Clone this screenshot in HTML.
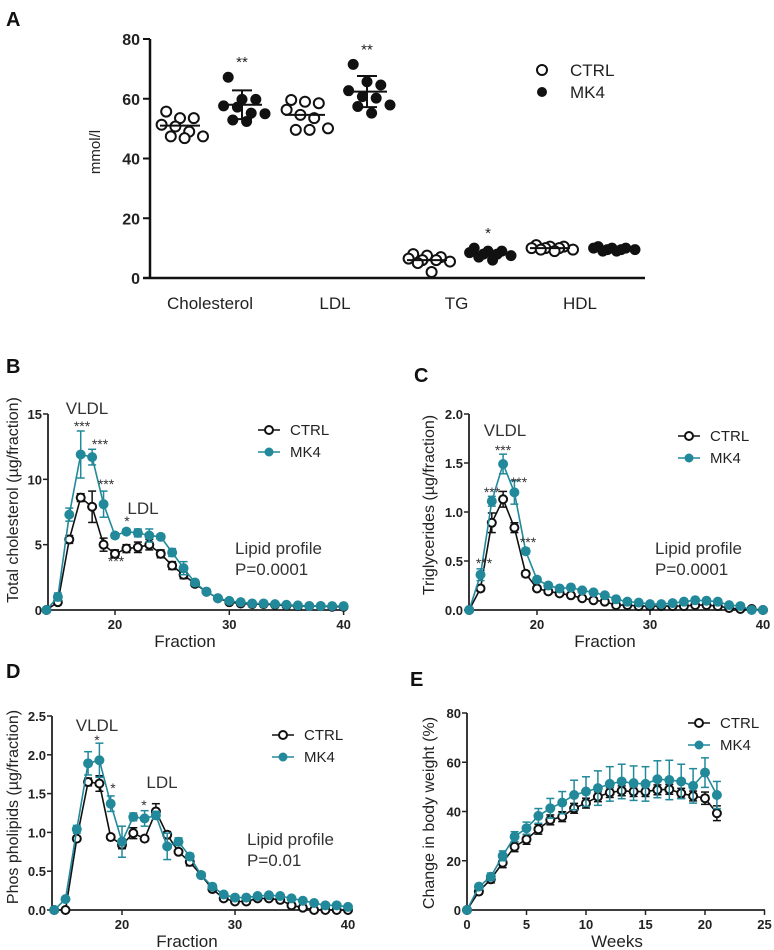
<!DOCTYPE html>
<html><head><meta charset="utf-8"><style>
body{margin:0;background:#fff}
svg{display:block}
text{font-family:"Liberation Sans",Arial,sans-serif}
</style></head><body>
<svg id="fig" width="774" height="950" viewBox="0 0 774 950"></svg>
<script>
// ---------- Panel A data ----------
const aGroups = ["Cholesterol","LDL","TG","HDL"];
const aCtrl = [[55.7,53.5,53.5,51.3,50.7,49,47.4,47.4,46.8],[59.6,59,58.5,56.3,54.6,53.5,50.1,49.6,49.6],[8,7.5,7,6.5,6,6,5.5,5,2],[11,10.5,10.5,10,10,10,9.5,9.5,9]];
const aMk4 = [[67.2,59.8,59.8,57.6,57.2,55.2,55,52.9,52.4],[71.5,65.7,64.6,62.7,60.7,60.2,57.9,57.4,55.2],[10,9,9,8.5,8,8,7.5,7,6],[10.5,10,10,10,9.5,9.5,9.5,9,9]];
const aCtrlMean = [51,54.6,6,10];
const aMk4Mean = [58,62.4,8,9.7];
const aMk4Sd = [4.8,5.2,1.2,0.5];
const aCtrlSd = [2.8,3.6,1.8,0.6];
const aYTicks = [0,20,40,60,80];
const aStars = ["**","**","*",""];

// ---------- Panel B data ----------
const fractions = [14,15,16,17,18,19,20,21,22,23,24,25,26,27,28,29,30,31,32,33,34,35,36,37,38,39,40];
const bCtrl = [0,0.6,5.4,8.6,7.9,5.0,4.3,4.7,4.8,5.0,4.3,3.4,2.7,2.0,1.4,0.9,0.6,0.5,0.45,0.45,0.4,0.35,0.3,0.3,0.3,0.25,0.25];
const bCtrlErr = [0,0.2,0.3,0.3,1.2,0.5,0.3,0.3,0.4,0.4,0.3,0.3,0.3,0.2,0.1,0.1,0.1,0.1,0.1,0.1,0.1,0.1,0.1,0.1,0.1,0.1,0.1];
const bMk4 = [0,1.0,7.3,11.9,11.7,8.1,5.7,6.0,5.9,5.7,5.6,4.4,3.2,2.1,1.4,0.9,0.7,0.6,0.5,0.5,0.45,0.4,0.35,0.3,0.3,0.3,0.3];
const bMk4Err = [0,0.3,0.5,1.8,0.6,1.0,0.2,0.2,0.3,0.5,0.2,0.3,0.5,0.2,0.1,0.1,0.1,0.1,0.1,0.1,0.1,0.1,0.1,0.1,0.1,0.1,0.1];
const bYTicks = [0,5,10,15];

// ---------- Panel C data ----------
const cCtrl = [0,0.22,0.89,1.13,0.84,0.37,0.22,0.19,0.17,0.15,0.12,0.1,0.085,0.05,0.05,0.04,0.04,0.04,0.04,0.04,0.05,0.05,0.04,0.02,0.01,0.01,0];
const cCtrlErr = [0,0.03,0.1,0.08,0.05,0.03,0.02,0.02,0.02,0.02,0.02,0.02,0.02,0.02,0.02,0.02,0.02,0.02,0.02,0.02,0.02,0.02,0.02,0.02,0.02,0.02,0];
const cMk4 = [0,0.36,1.11,1.49,1.2,0.6,0.31,0.25,0.22,0.23,0.2,0.18,0.15,0.11,0.085,0.075,0.06,0.06,0.07,0.085,0.1,0.095,0.085,0.05,0.04,0,0];
const cMk4Err = [0,0.06,0.05,0.1,0.12,0.03,0.02,0.02,0.02,0.02,0.02,0.02,0.02,0.02,0.02,0.02,0.02,0.02,0.02,0.02,0.02,0.02,0.02,0.02,0.02,0,0];
const cYTicks = [0,0.5,1.0,1.5,2.0];
const cYLabels = ["0.0","0.5","1.0","1.5","2.0"];

// ---------- Panel D data ----------
const dCtrl = [0,0,0.92,1.65,1.63,0.94,0.84,0.99,0.92,1.27,0.97,0.75,0.62,0.45,0.27,0.15,0.11,0.11,0.15,0.15,0.13,0.06,0.03,0,0,0,0];
const dCtrlErr = [0,0,0.03,0.05,0.1,0.03,0.05,0.07,0.03,0.1,0.04,0.03,0.05,0.03,0.02,0.02,0.02,0.02,0.02,0.02,0.02,0.02,0.02,0.02,0.02,0.02,0.02];
const dMk4 = [0,0.14,1.04,1.89,1.93,1.37,0.88,1.2,1.18,1.22,0.82,0.88,0.69,0.45,0.3,0.2,0.16,0.16,0.18,0.19,0.18,0.15,0.12,0.09,0.06,0.06,0.04];
const dMk4Err = [0,0.02,0.05,0.15,0.22,0.1,0.2,0.05,0.1,0.05,0.17,0.05,0.04,0.03,0.02,0.02,0.02,0.02,0.02,0.02,0.02,0.02,0.02,0.02,0.02,0.02,0.02];
const dYTicks = [0,0.5,1.0,1.5,2.0,2.5];
const dYLabels = ["0.0","0.5","1.0","1.5","2.0","2.5"];

// ---------- Panel E data ----------
const weeks = [0,1,2,3,4,5,6,7,8,9,10,11,12,13,14,15,16,17,18,19,20,21];
const eCtrl = [0,7.5,12.5,19.2,25.7,28.7,32.8,36.6,37.9,41.3,43.4,46,47.7,48.4,48.1,48.1,48.8,49,47.4,46.3,45.4,39.3];
const eCtrlErr = [0,1,1.5,2,2,2,2,2,2,2,2,2,2,2,2,2,2,2,2,2,2.5,3];
const eMk4 = [0,9.5,13.5,22,29.8,33.2,38.2,41.3,43.6,46.7,48.1,49.5,51.2,52.2,51.5,51.2,53.1,52.8,52.2,50.4,55.8,46.7];
const eMk4Err = [0,1,1.5,2,2,2.5,3,4,4.5,6,6,7,7,7,7,7,7.5,8,7,7,6,5.5];
const eXTicks = [0,5,10,15,20,25];
const eYTicks = [0,20,40,60,80];

const TEAL = "#22899b";
const NS = "http://www.w3.org/2000/svg";
const svg = document.getElementById("fig");
function mk(tag, attrs, parent, txt){
  const e = document.createElementNS(NS, tag);
  for (const k in attrs) e.setAttribute(k, attrs[k]);
  if (txt !== undefined) e.textContent = txt;
  (parent || svg).appendChild(e);
  return e;
}
function grp(name, parent){
  const g = mk("g", {}, parent);
  
  
  return g;
}
function label(parent, name, x, y, txt, size, opts){
  opts = opts || {};
  const t = mk("text", {x:x, y:y, "font-size":size, "text-anchor":opts.anchor||"start", "font-weight":opts.bold?"bold":"normal", fill:opts.fill||"#222"}, parent, txt);
  if (opts.rot) t.setAttribute("transform", "rotate(-90 " + x + " " + y + ")");
  
  
  return t;
}

// ================= Panel A =================
(function(){
  const g = grp("panel-a");
  const x0 = 150, y0 = 278, yTop = 39;
  const yS = v => y0 - (v / 80) * (y0 - yTop);
  const centers = [180, 242, 305, 367, 427, 488, 550, 612];
  const jit = [-12,0,12,-16,-4,8,20,-8,4];
  const jitY = [0,0,0,0,0,0,0,0,0];
  label(g, "panel-label-a", 6, 26, "A", 20, {bold:true, fill:"#111"});
  const ax = grp("y-axis", g);
  mk("line", {x1:x0, y1:yTop, x2:x0, y2:y0, stroke:"#111", "stroke-width":2.5}, ax);
  aYTicks.forEach(v => {
    mk("line", {x1:x0-7, y1:yS(v), x2:x0, y2:yS(v), stroke:"#111", "stroke-width":2}, ax);
    label(ax, "y-tick-label", x0-10, yS(v)+6, String(v), 16, {anchor:"end", bold:true});
  });
  label(g, "y-axis-title", 100, 152, "mmol/l", 15, {anchor:"middle", rot:true});
  const xa = grp("x-axis", g);
  mk("line", {x1:143, y1:y0, x2:645, y2:y0, stroke:"#111", "stroke-width":2.5}, xa);
  aGroups.forEach((n, i) => {
    label(xa, "x-category-label", (centers[2*i]+centers[2*i+1])/2 - 1, 309, n, 17, {anchor:"middle"});
  });
  aGroups.forEach((n, i) => {
    const cc = centers[2*i], cm = centers[2*i+1];
    const gc = grp("ctrl-points-" + n.toLowerCase(), g);
    aCtrl[i].forEach((v, j) => {
      mk("circle", {cx:cc + jit[j]*1.15, cy:yS(v), r:5, fill:"#fff", stroke:"#111", "stroke-width":2}, gc);
    });
    mk("line", {x1:cc-20, y1:yS(aCtrlMean[i]), x2:cc+20, y2:yS(aCtrlMean[i]), stroke:"#111", "stroke-width":2}, gc);
    const gm = grp("mk4-points-" + n.toLowerCase(), g);
    aMk4[i].forEach((v, j) => {
      mk("circle", {cx:cm + jit[j]*1.15, cy:yS(v), r:5, fill:"#111", stroke:"#111", "stroke-width":1}, gm);
    });
    mk("line", {x1:cm-20, y1:yS(aMk4Mean[i]), x2:cm+20, y2:yS(aMk4Mean[i]), stroke:"#111", "stroke-width":2}, gm);
    if (i < 2) {
      const t = yS(aMk4Mean[i]+aMk4Sd[i]), b = yS(aMk4Mean[i]-aMk4Sd[i]);
      mk("line", {x1:cm, y1:t, x2:cm, y2:b, stroke:"#111", "stroke-width":2}, gm);
      mk("line", {x1:cm-10, y1:t, x2:cm+10, y2:t, stroke:"#111", "stroke-width":2}, gm);
      mk("line", {x1:cm-10, y1:b, x2:cm+10, y2:b, stroke:"#111", "stroke-width":2}, gm);
    }
    if (aStars[i]) label(g, "significance-marker", cm, yS(Math.max(...aMk4[i])) - 10, aStars[i], 15, {anchor:"middle"});
  });
  const lg = grp("legend", g);
  mk("circle", {cx:542, cy:70, r:5, fill:"#fff", stroke:"#111", "stroke-width":2}, lg);
  mk("circle", {cx:542, cy:92, r:5, fill:"#111"}, lg);
  label(lg, "legend-ctrl", 570, 76, "CTRL", 17);
  label(lg, "legend-mk4", 570, 98, "MK4", 17);
})();

// ============ generic line panel ============
function linePanel(cfg){
  const g = grp(cfg.name);
  const xS = v => cfg.xAt0 + (v - cfg.x0) * cfg.xPx;
  const yS = v => cfg.y0 - (v - 0) * cfg.yPx;
  label(g, "panel-label", cfg.letterX, cfg.letterY, cfg.letter, 20, {bold:true, fill:"#111"});
  const ya = grp("y-axis", g);
  mk("line", {x1:cfg.axisX, y1:yS(cfg.yTicks[cfg.yTicks.length-1]), x2:cfg.axisX, y2:cfg.y0, stroke:"#222", "stroke-width":1.8}, ya);
  cfg.yTicks.forEach((v, i) => {
    mk("line", {x1:cfg.axisX-5, y1:yS(v), x2:cfg.axisX, y2:yS(v), stroke:"#222", "stroke-width":1.5}, ya);
    label(ya, "y-tick-label", cfg.axisX-6, yS(v)+5, cfg.yLabels ? cfg.yLabels[i] : String(v), 13, {anchor:"end", bold:true});
  });
  label(g, "y-axis-title", cfg.yTitleX, cfg.yTitleY, cfg.yTitle, 16, {anchor:"middle", rot:true});
  const xa = grp("x-axis", g);
  mk("line", {x1:cfg.axisX, y1:cfg.y0, x2:cfg.xEnd, y2:cfg.y0, stroke:"#222", "stroke-width":1.8}, xa);
  cfg.xTicks.forEach(v => {
    mk("line", {x1:xS(v), y1:cfg.y0, x2:xS(v), y2:cfg.y0+5, stroke:"#222", "stroke-width":1.5}, xa);
    label(xa, "x-tick-label", xS(v), cfg.y0+19, String(v), 13, {anchor:"middle", bold:true});
  });
  label(g, "x-axis-title", cfg.xTitleX, cfg.y0+37, cfg.xTitle, 17, {anchor:"middle"});
  function series(name, xs, ys, es, color, filled){
    const sg = grp(name, g);
    let d = "";
    xs.forEach((x, i) => { d += (i ? "L" : "M") + xS(x).toFixed(1) + " " + yS(ys[i]).toFixed(1); });
    const p = mk("path", {d:d, fill:"none", stroke:color, "stroke-width":1.6}, sg);
    
    
    xs.forEach((x, i) => {
      if (es[i] > 0) {
        const cx = xS(x), t = yS(ys[i]+es[i]), b = yS(ys[i]-es[i]);
        mk("line", {x1:cx, y1:t, x2:cx, y2:b, stroke:color, "stroke-width":1.5}, sg);
        mk("line", {x1:cx-4, y1:t, x2:cx+4, y2:t, stroke:color, "stroke-width":1.5}, sg);
        mk("line", {x1:cx-4, y1:b, x2:cx+4, y2:b, stroke:color, "stroke-width":1.5}, sg);
      }
    });
    xs.forEach((x, i) => {
      const c = mk("circle", {cx:xS(x), cy:yS(ys[i]), r:filled?4.5:4, fill:filled?color:"#fff", stroke:color, "stroke-width":filled?1:2}, sg);
      
      
    });
  }
  series("ctrl-series", cfg.xs, cfg.ctrl, cfg.ctrlErr, "#111", false);
  series("mk4-series", cfg.xs, cfg.mk4, cfg.mk4Err, TEAL, true);
  const lg = grp("legend", g);
  mk("line", {x1:cfg.legX, y1:cfg.legY, x2:cfg.legX+22, y2:cfg.legY, stroke:"#111", "stroke-width":1.6}, lg);
  mk("circle", {cx:cfg.legX+11, cy:cfg.legY, r:4, fill:"#fff", stroke:"#111", "stroke-width":2}, lg);
  mk("line", {x1:cfg.legX, y1:cfg.legY+22, x2:cfg.legX+22, y2:cfg.legY+22, stroke:TEAL, "stroke-width":1.6}, lg);
  mk("circle", {cx:cfg.legX+11, cy:cfg.legY+22, r:4.5, fill:TEAL}, lg);
  label(lg, "legend-ctrl", cfg.legX+32, cfg.legY+5, "CTRL", 15);
  label(lg, "legend-mk4", cfg.legX+32, cfg.legY+27, "MK4", 15);
  (cfg.notes || []).forEach(n => label(g, n[3], n[0], n[1], n[2], n[4] || 14, {anchor:n[5] || "middle", fill:"#333"}));
}

linePanel({name:"panel-b", letter:"B", letterX:6, letterY:373, xs:fractions, ctrl:bCtrl, ctrlErr:bCtrlErr, mk4:bMk4, mk4Err:bMk4Err,
  x0:20, xAt0:115, xPx:11.43, axisX:48, xEnd:345, y0:610, yPx:196/15, yTicks:bYTicks, xTicks:[20,30,40],
  yTitle:"Total cholesterol (µg/fraction)", yTitleX:18, yTitleY:500, xTitle:"Fraction", xTitleX:185,
  legX:258, legY:430,
  notes:[[87,414,"VLDL","vldl-label",17],[82,431,"***","sig"],[100,449,"***","sig"],[106,489,"***","sig"],[127,526,"*","sig"],[116,566,"***","sig"],[143,514,"LDL","ldl-label",17],
    [235,554,"Lipid profile","stat-label",17,"start"],[235,575,"P=0.0001","p-value",17,"start"]]});

linePanel({name:"panel-c", letter:"C", letterX:414, letterY:382, xs:fractions, ctrl:cCtrl, ctrlErr:cCtrlErr, mk4:cMk4, mk4Err:cMk4Err,
  x0:20, xAt0:537, xPx:11.3, axisX:469, xEnd:765, y0:610, yPx:196/2, yTicks:cYTicks, yLabels:cYLabels, xTicks:[20,30,40],
  yTitle:"Triglycerides (µg/fraction)", yTitleX:434, yTitleY:505, xTitle:"Fraction", xTitleX:605,
  legX:678, legY:436,
  notes:[[505,436,"VLDL","vldl-label",17],[503,455,"***","sig"],[519,487,"***","sig"],[492,497,"***","sig"],[528,547,"***","sig"],[484,568,"***","sig"],
    [655,554,"Lipid profile","stat-label",17,"start"],[655,575,"P=0.0001","p-value",17,"start"]]});

linePanel({name:"panel-d", letter:"D", letterX:6, letterY:678, xs:fractions, ctrl:dCtrl, ctrlErr:dCtrlErr, mk4:dMk4, mk4Err:dMk4Err,
  x0:20, xAt0:122, xPx:11.3, axisX:52, xEnd:350, y0:910, yPx:194/2.5, yTicks:dYTicks, yLabels:dYLabels, xTicks:[20,30,40],
  yTitle:"Phos pholipids (µg/fraction)", yTitleX:18, yTitleY:807, xTitle:"Fraction", xTitleX:187,
  legX:272, legY:735,
  notes:[[97,731,"VLDL","vldl-label",17],[97,745,"*","sig"],[113,793,"*","sig"],[144,810,"*","sig"],[162,788,"LDL","ldl-label",17],
    [247,845,"Lipid profile","stat-label",17,"start"],[247,866,"P=0.01","p-value",17,"start"]]});

linePanel({name:"panel-e", letter:"E", letterX:410, letterY:686, xs:weeks, ctrl:eCtrl, ctrlErr:eCtrlErr, mk4:eMk4, mk4Err:eMk4Err,
  x0:0, xAt0:467, xPx:11.9, axisX:467, xEnd:765, y0:910, yPx:197/80, yTicks:eYTicks, xTicks:eXTicks,
  yTitle:"Change in body weight (%)", yTitleX:434, yTitleY:813, xTitle:"Weeks", xTitleX:617,
  legX:688, legY:723, notes:[]});
</script>
</body></html>
